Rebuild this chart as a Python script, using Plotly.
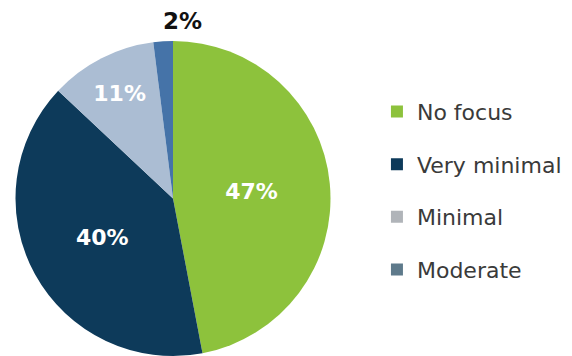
import plotly.graph_objects as go

labels = ["No focus", "Very minimal", "Minimal", "Moderate"]
values = [47, 40, 11, 2]
colors = ["#8dc23c", "#0d3a5a", "#abbdd3", "#4573a8"]
legend_colors = ["#8dc23c", "#0d3a5a", "#b0b4b9", "#5e7a8b"]
text_colors = ["white", "white", "white", "#111111"]
positions = ["inside", "inside", "inside", "none"]

fig = go.Figure()
fig.add_trace(go.Pie(
    labels=labels, values=values, sort=False, direction="clockwise", rotation=0,
    marker=dict(colors=colors, line=dict(width=0)),
    texttemplate="<b>%{value}%</b>", textposition=positions,
    textfont=dict(color=text_colors, size=22, family="DejaVu Sans"),
    insidetextorientation="horizontal",
    showlegend=False, hoverinfo="skip",
    domain=dict(x=[0.0271, 0.5778], y=[0.0, 0.885]),
))
for lab, col in zip(labels, legend_colors):
    fig.add_trace(go.Scatter(
        x=[None], y=[None], mode="markers", name=lab, legendgroup=lab,
        marker=dict(symbol="square", size=12, color=col),
    ))

fig.add_annotation(
    text=f"<b>{values[3]}%</b>", x=182 / 572, y=1 - 21 / 356,
    xref="paper", yref="paper", xanchor="center", yanchor="middle",
    showarrow=False,
    font=dict(family="DejaVu Sans", size=23, color="#111111"),
)

fig.update_layout(
    width=572, height=356, margin=dict(l=0, r=0, t=0, b=0),
    paper_bgcolor="white", plot_bgcolor="white",
    xaxis=dict(visible=False), yaxis=dict(visible=False),
    legend=dict(x=0.659, y=0.745, xanchor="left", yanchor="top",
                font=dict(family="DejaVu Sans", size=22, color="#3a3a3a"),
                tracegroupgap=21, itemwidth=30, bgcolor="rgba(0,0,0,0)"),
)
fig.write_html("out.html")
